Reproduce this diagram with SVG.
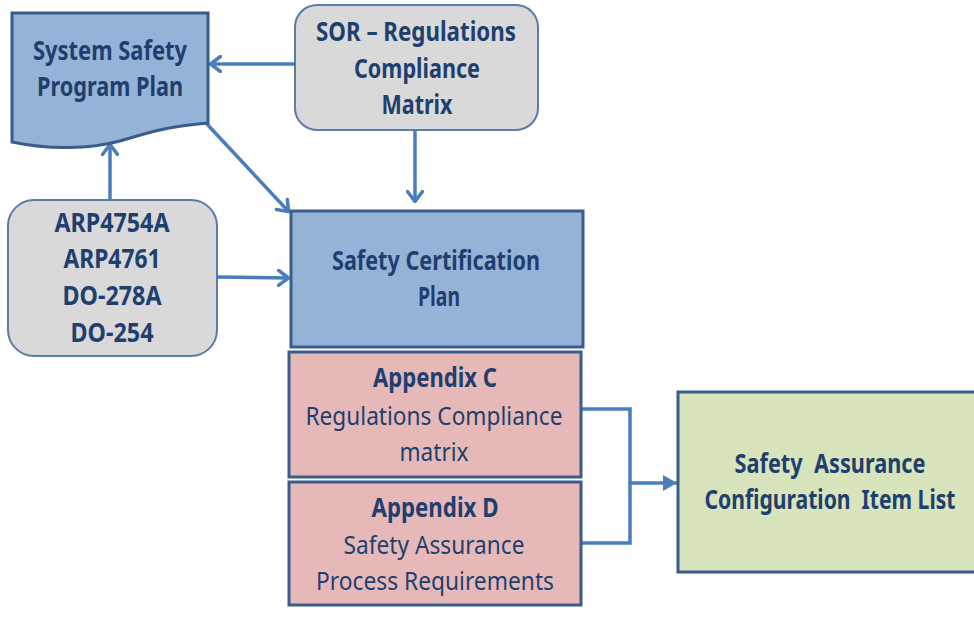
<svg xmlns="http://www.w3.org/2000/svg" width="974" height="627" viewBox="0 0 974 627">
<defs>
<style>
.t{font-family:"Noto Sans","Open Sans","Liberation Sans",sans-serif;font-size:26px;fill:#1f3f6e;text-anchor:middle}
.b{font-weight:bold}
.blue{fill:#95b3d7;stroke:#385d8a;stroke-width:3}
.grey{fill:#d9d9d9;stroke:#5a7ca8;stroke-width:2}
.pink{fill:#e6b9b8;stroke:#385d8a;stroke-width:3}
.green{fill:#d7e4bc;stroke:#385d8a;stroke-width:3}
.c{fill:none;stroke:#4a7ebb;stroke-width:3.5}
</style>
<marker id="open" viewBox="0 0 13 18" refX="12" refY="9" markerWidth="13" markerHeight="18" markerUnits="userSpaceOnUse" orient="auto">
<path d="M1.5,1.5 L11.5,9 L1.5,16.5" fill="none" stroke="#4a7ebb" stroke-width="3.5" stroke-linecap="round" stroke-linejoin="round"/>
</marker>
<marker id="fill" viewBox="0 0 14 16" refX="14" refY="8" markerWidth="14" markerHeight="16" markerUnits="userSpaceOnUse" orient="auto">
<path d="M0,0 L14,8 L0,16 Z" fill="#4a7ebb"/>
</marker>
</defs>

<g id="connectors">
<path class="c" d="M295,64 L210,64" marker-end="url(#open)"/>
<path class="c" d="M415,130 L415,202" marker-end="url(#open)"/>
<path class="c" d="M206,123 L289,212" marker-end="url(#open)"/>
<path class="c" d="M110,200 L110,144" marker-end="url(#open)"/>
<path class="c" d="M217,277 L289,278" marker-end="url(#open)"/>
<path class="c" d="M581,409 L630,409 L630,543 L581,543"/>
<path class="c" d="M630,483 L677,483" marker-end="url(#fill)"/>
</g>

<g id="sspp">
<path class="blue" d="M12,13 L208,13 L208,123 C170,126 150,132 120,141 C90,149 50,150 12,142 Z" stroke-width="2"/>
<text class="t b" x="110" y="60" textLength="154" lengthAdjust="spacingAndGlyphs">System Safety</text>
<text class="t b" x="110" y="96" textLength="146" lengthAdjust="spacingAndGlyphs">Program Plan</text>
</g>

<g id="sor">
<rect class="grey" x="295" y="5" width="243" height="125" rx="22"/>
<text class="t b" x="416" y="41" textLength="200" lengthAdjust="spacingAndGlyphs">SOR – Regulations</text>
<text class="t b" x="417" y="78" textLength="126" lengthAdjust="spacingAndGlyphs">Compliance</text>
<text class="t b" x="417" y="114" textLength="71" lengthAdjust="spacingAndGlyphs">Matrix</text>
</g>

<g id="arp">
<rect class="grey" x="8" y="200" width="209" height="156" rx="26"/>
<text class="t b" x="112" y="232" textLength="115" lengthAdjust="spacingAndGlyphs">ARP4754A</text>
<text class="t b" x="112" y="268" textLength="97" lengthAdjust="spacingAndGlyphs">ARP4761</text>
<text class="t b" x="112" y="305" textLength="99" lengthAdjust="spacingAndGlyphs">DO-278A</text>
<text class="t b" x="112" y="342" textLength="83" lengthAdjust="spacingAndGlyphs">DO-254</text>
</g>

<g id="scp">
<rect class="blue" x="291" y="211" width="292" height="136"/>
<text class="t b" x="436" y="270" textLength="208" lengthAdjust="spacingAndGlyphs">Safety Certification</text>
<text class="t b" x="439" y="306" textLength="42" lengthAdjust="spacingAndGlyphs">Plan</text>
</g>

<g id="appc">
<rect class="pink" x="289" y="352" width="292" height="125"/>
<text class="t b" x="435" y="387" textLength="124" lengthAdjust="spacingAndGlyphs">Appendix C</text>
<text class="t" x="434" y="425" textLength="257" lengthAdjust="spacingAndGlyphs">Regulations Compliance</text>
<text class="t" x="434" y="461" textLength="69" lengthAdjust="spacingAndGlyphs">matrix</text>
</g>

<g id="appd">
<rect class="pink" x="289" y="482" width="292" height="123"/>
<text class="t b" x="435" y="517" textLength="127" lengthAdjust="spacingAndGlyphs">Appendix D</text>
<text class="t" x="434" y="554" textLength="181" lengthAdjust="spacingAndGlyphs">Safety Assurance</text>
<text class="t" x="435" y="590" textLength="238" lengthAdjust="spacingAndGlyphs">Process Requirements</text>
</g>

<g id="sacil">
<rect class="green" x="678" y="392" width="300" height="180"/>
<text class="t b" x="830" y="473" textLength="191" lengthAdjust="spacingAndGlyphs" xml:space="preserve">Safety  Assurance</text>
<text class="t b" x="830" y="509" textLength="251" lengthAdjust="spacingAndGlyphs" xml:space="preserve">Configuration  Item List</text>
</g>
</svg>
